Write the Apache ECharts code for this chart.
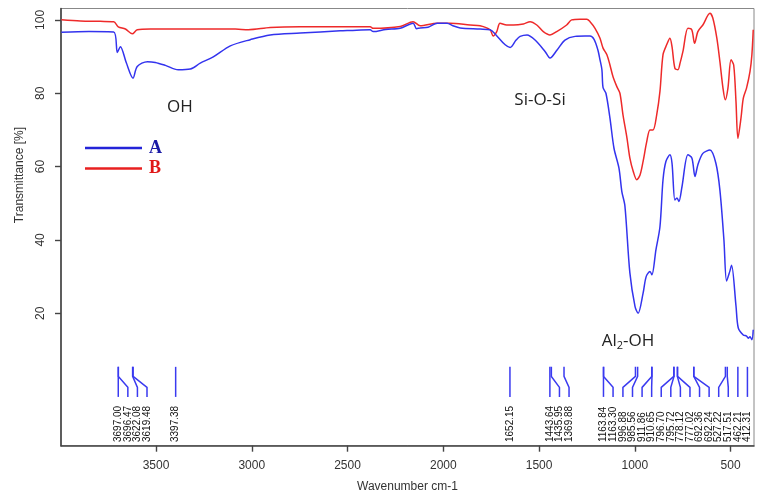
<!DOCTYPE html>
<html>
<head>
<meta charset="utf-8">
<script src="https://cdn.jsdelivr.net/npm/echarts@6/dist/echarts.min.js"></script>
<style>
html,body{margin:0;padding:0;background:#fff;}
#chart{width:761px;height:503px;}
</style>
</head>
<body>
<div id="chart"></div>
<script>
// ---- Data ----
const wavenumberA = [3994,3850,3721,3702,3686,3655,3620,3598,3545,3504,3451,3384,3321,3269,3201,3112,3008,2904,2747,2538,2486,2382,2366,2300,2225,2158,2140,2121,2080,2032,1980,1950,1912,1808,1756,1725,1677,1651,1620,1599,1563,1521,1469,1443,1406,1365,1312,1260,1234,1213,1193,1182,1172,1166,1151,1130,1109,1083,1068,1052,1026,999,983,957,941,921,911,890,869,853,838,817,806,791,780,770,754,723,702,686,671,645,608,577,556,535,521,504,495,472,460,434,417,408,399,389,382];
const transmittanceA = [96.6,96.8,96.7,91.1,92.7,88.3,84.1,87.3,88.6,88.4,87.6,86.4,86.6,88.2,89.9,92.9,94.6,95.9,96.4,97.0,97.1,97.3,96.8,97.4,97.7,99.1,97.6,97.8,98.0,99.1,99.1,98.4,97.8,97.5,97.3,95.9,93.2,92.5,94.5,95.5,95.9,94.5,91.4,89.6,91.8,94.5,95.5,95.6,95.6,94.7,91.8,89.1,86.4,81.5,80.0,73.2,65.0,59.6,53.2,49.3,31.0,21.8,20.0,25.5,30.0,31.4,30.5,37.3,43.6,56.4,61.4,63.2,60.9,50.9,51.4,50.5,54.5,63.2,62.3,57.3,60.5,63.6,64.5,60.9,53.6,40.0,28.8,31.5,33.1,22.0,16.0,14.1,13.8,13.2,13.6,12.8,15.5];
const wavenumberB = [3994,3895,3791,3721,3697,3660,3624,3598,3530,3269,3086,3018,2904,2747,2382,2366,2225,2158,2121,2032,1965,1860,1808,1756,1740,1721,1704,1669,1634,1582,1547,1512,1478,1443,1408,1356,1330,1286,1251,1234,1208,1182,1166,1146,1130,1114,1094,1078,1062,1041,1026,1008,990,973,957,938,921,905,886,869,853,834,817,806,791,775,764,749,723,703,688,671,645,608,593,572,556,540,528,514,498,484,472,462,446,434,417,399,389,382];
const transmittanceB = [100.0,99.7,99.6,99.5,98.1,97.5,96.2,97.3,97.5,97.5,97.5,97.3,97.9,98.1,98.1,97.7,98.2,99.5,98.4,99.1,99.1,98.6,98.4,97.3,95.6,96.8,99.1,98.6,98.6,98.9,99.5,98.6,96.8,95.9,96.8,98.6,100.0,100.2,100.2,99.5,97.7,95.0,92.3,90.5,87.7,84.5,81.8,80.0,74.1,67.7,62.3,58.6,56.4,57.7,61.4,66.8,70.0,70.0,74.1,80.5,90.5,93.2,95.0,92.7,86.8,86.4,88.2,91.4,97.7,97.3,93.6,96.8,98.6,101.8,100.5,95.0,88.6,81.4,78.2,81.4,89.1,87.7,77.7,67.7,73.2,78.6,81.4,85.9,90.5,97.3];
const peakValues = [3697.00,3696.47,3622.08,3619.48,3397.38,1652.15,1443.64,1435.95,1369.88,1163.84,1163.30,996.88,985.56,911.86,910.65,796.70,795.72,778.12,777.02,692.36,692.24,527.22,517.51,462.21,412.31];
const peakLabels = ['3697.00','3696.47','3622.08','3619.48','3397.38','1652.15','1443.64','1435.95','1369.88','1163.84','1163.30','996.88','985.56','911.86','910.65','796.70','795.72','778.12','777.02','692.36','692.24','527.22','517.51','462.21','412.31'];
const xTicks = [500,1000,1500,2000,2500,3000,3500];
const yTicks = [20,40,60,80,100];
const seriesNames = ['A','B'];

// ---- Peak label spreading (in wavenumber units) ----
const labelGap = 50;
const labelPos = peakValues.slice();
for (let i = 1; i < labelPos.length; i++) labelPos[i] = Math.min(peakValues[i], labelPos[i-1] - labelGap);
const lowBound = Math.min.apply(null, peakValues);
labelPos[labelPos.length-1] = Math.max(labelPos[labelPos.length-1], lowBound);
for (let i = labelPos.length - 2; i >= 0; i--) labelPos[i] = Math.max(labelPos[i], labelPos[i+1] + labelGap);
const peakData = peakValues.map((v, i) => [v, labelPos[i]]);

const dataA = wavenumberA.map((w, i) => [w, transmittanceA[i]]);
const dataB = wavenumberB.map((w, i) => [w, transmittanceB[i]]);

const FONT = 'Liberation Sans, Arial, sans-serif';
const chart = echarts.init(document.getElementById('chart'), null, {renderer: 'canvas'});

const option = {
  animation: false,
  backgroundColor: '#fff',
  grid: {left: 61, right: 7, top: 8.5, bottom: 57.3, show: true, borderColor: '#888', borderWidth: 1},
  legend: {
    orient: 'vertical', left: 80, top: 134, itemWidth: 57, itemHeight: 2.5, itemGap: 2.6,
    icon: 'rect',
    data: [
      {name: seriesNames[0], textStyle: {color: '#1a1aa6'}},
      {name: seriesNames[1], textStyle: {color: '#e01818'}}
    ],
    textStyle: {fontFamily: 'Liberation Serif, Times New Roman, serif', fontWeight: 'bold', fontSize: 18, padding: [0,0,0,2]}
  },
  xAxis: {
    type: 'value', inverse: true, min: 378, max: 3996,
    axisLine: {show: true, onZero: false, lineStyle: {color: '#444', width: 1.6}},
    axisTick: {show: true, customValues: xTicks, length: 6, lineStyle: {color: '#444', width: 1.4}},
    axisLabel: {customValues: xTicks, margin: 14, fontSize: 12, color: '#333', fontFamily: FONT, formatter: v => String(v)},
    splitLine: {show: false},
    name: 'Wavenumber cm-1', nameLocation: 'middle', nameGap: 35,
    nameTextStyle: {fontSize: 12, color: '#333', fontFamily: FONT}
  },
  yAxis: {
    type: 'value', min: -16.1, max: 103.1,
    axisLine: {show: true, onZero: false, lineStyle: {color: '#444', width: 1.6}},
    axisTick: {show: true, customValues: yTicks, length: 6, lineStyle: {color: '#444', width: 1.4}},
    axisLabel: {customValues: yTicks, rotate: 90, margin: 14, fontSize: 12, color: '#333', fontFamily: FONT, formatter: v => String(v)},
    splitLine: {show: false}
  },
  graphic: [
    {type: 'text', x: 20, y: 175, rotation: Math.PI/2, style: {text: 'Transmittance [%]', font: '12px ' + FONT, fill: '#333', textAlign: 'center', textVerticalAlign: 'middle'}},
    {type: 'text', x: 180, y: 107, style: {text: 'OH', font: '17px Open Sans, sans-serif', fill: '#222', textAlign: 'center', textVerticalAlign: 'middle'}},
    {type: 'text', x: 540, y: 100, style: {text: 'Si-O-Si', font: '17px Open Sans, sans-serif', fill: '#222', textAlign: 'center', textVerticalAlign: 'middle'}},
    {type: 'text', x: 628, y: 341, style: {
      text: '{a|Al}{s|2}{a|-OH}', textAlign: 'center', textVerticalAlign: 'middle', fill: '#222',
      rich: {a: {font: '17px Open Sans, sans-serif', fill: '#222'}, s: {font: '11px Open Sans, sans-serif', fill: '#222', padding: [10,0,0,0]}}
    }}
  ],
  series: [
    {name: seriesNames[0], type: 'line', data: dataA, smooth: 0.3, showSymbol: false, symbol: 'none', lineStyle: {color: '#3333ee', width: 1.5}, itemStyle: {color: '#2424d8'}, z: 3},
    {name: seriesNames[1], type: 'line', data: dataB, smooth: 0.3, showSymbol: false, symbol: 'none', lineStyle: {color: '#ee2a2a', width: 1.5}, itemStyle: {color: '#e82020'}, z: 2},
    {
      name: 'peaks', type: 'custom', data: peakData, z: 4, silent: true,
      renderItem: function (params, api) {
        const act = api.value(0), lab = api.value(1);
        const p1 = api.coord([act, 5.4]);
        const p2 = api.coord([act, 2.8]);
        const p3 = api.coord([lab, -0.2]);
        const p4 = api.coord([lab, -2.8]);
        const pt = api.coord([lab, -15.1]);
        return {
          type: 'group',
          children: [
            {type: 'polyline', shape: {points: [p1, p2, p3, p4]}, style: {stroke: '#3a3af0', lineWidth: 1.5, fill: null}},
            {type: 'text', x: pt[0], y: pt[1], rotation: Math.PI/2,
             style: {text: peakLabels[params.dataIndex], font: '10px ' + FONT, fill: '#111', textAlign: 'left', textVerticalAlign: 'middle'}}
          ]
        };
      }
    }
  ]
};
chart.setOption(option);
</script>
</body>
</html>
